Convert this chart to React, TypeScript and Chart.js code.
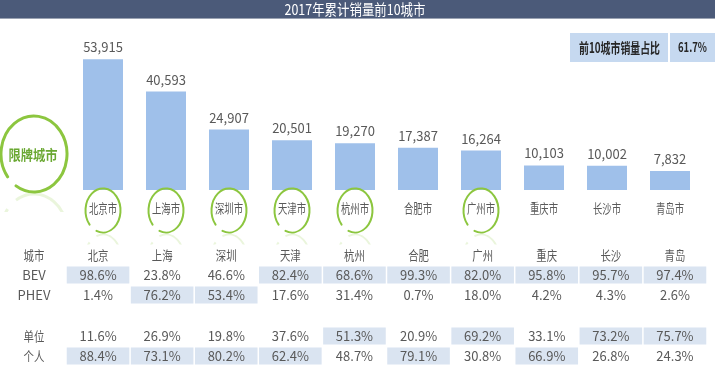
import React, { useEffect, useRef } from "react";
import { Chart, registerables } from "chart.js";

Chart.register(...registerables);

const categories = ["北京市", "上海市", "深圳市", "天津市", "杭州市", "合肥市", "广州市", "重庆市", "长沙市", "青岛市"];
const cityShort = ["北京", "上海", "深圳", "天津", "杭州", "合肥", "广州", "重庆", "长沙", "青岛"];
const sales = [53915, 40593, 24907, 20501, 19270, 17387, 16264, 10103, 10002, 7832];
const restricted = [true, true, true, true, true, false, true, false, false, false];
const bev = [98.6, 23.8, 46.6, 82.4, 68.6, 99.3, 82.0, 95.8, 95.7, 97.4];
const phev = [1.4, 76.2, 53.4, 17.6, 31.4, 0.7, 18.0, 4.2, 4.3, 2.6];
const unitShare = [11.6, 26.9, 19.8, 37.6, 51.3, 20.9, 69.2, 33.1, 73.2, 75.7];
const personalShare = [88.4, 73.1, 80.2, 62.4, 48.7, 79.1, 30.8, 66.9, 26.8, 24.3];
const title = "2017年累计销量前10城市";
const shareLabel = "前10城市销量占比";
const shareValue = "61.7%";
const restrictLabel = "限牌城市";
const rowLabels = ["城市", "BEV", "PHEV", "单位", "个人"];

const FONT = "'Liberation Sans Narrow','Noto Sans CJK SC','DejaVu Sans Condensed',sans-serif";
const GREY = "#595959";
const GREEN = "#8cc63f";

function txt(ctx: CanvasRenderingContext2D, s: string, x: number, y: number, size: number, color: string, sx = 1, bold = false, fitW = 0) {
  ctx.save();
  ctx.font = `${bold ? "bold " : ""}${size}px ${FONT}`;
  let k = sx;
  if (fitW > 0) k = fitW / ctx.measureText(s).width;
  ctx.translate(x, y);
  ctx.scale(k, 1);
  ctx.fillStyle = color;
  ctx.textAlign = "center";
  ctx.textBaseline = "middle";
  ctx.fillText(s, 0, 0);
  ctx.restore();
}

function ring(ctx: CanvasRenderingContext2D, cx: number, cy: number, rx: number, ry: number, lw: number, gapFrom: number, gapTo: number) {
  const a0 = (gapTo * Math.PI) / 180;
  const a1 = ((gapFrom + 360) * Math.PI) / 180;
  ctx.save();
  ctx.strokeStyle = GREEN;
  ctx.lineWidth = lw;
  ctx.lineCap = "round";
  ctx.beginPath();
  ctx.ellipse(cx, cy, rx, ry, 0, a0, a1);
  ctx.stroke();
  ctx.restore();
  // faint reflection
  ctx.save();
  const by = cy + ry;
  ctx.beginPath();
  ctx.rect(cx - rx - 5, by + 1, rx * 2 + 10, ry * 0.5);
  ctx.clip();
  ctx.globalAlpha = 0.18;
  ctx.translate(0, 2 * by + 2);
  ctx.scale(1, -1);
  ctx.strokeStyle = GREEN;
  ctx.lineWidth = lw;
  ctx.beginPath();
  ctx.ellipse(cx, cy, rx, ry, 0, a0, a1);
  ctx.stroke();
  ctx.restore();
}

const extras = {
  id: "extras",
  afterDraw(chart: any) {
    const ctx: CanvasRenderingContext2D = chart.ctx;
    const xs = chart.scales.x;
    const meta = chart.getDatasetMeta(0);

    // title bar
    ctx.fillStyle = "#4b5a79";
    ctx.fillRect(0, 0, 715, 18);
    ctx.fillStyle = "#9aa2b2";
    ctx.fillRect(0, 18, 715, 1);
    txt(ctx, title, 355, 9.5, 15, "#ffffff", 1, false, 141);

    // share box
    ctx.fillStyle = "#c6d9f0";
    ctx.fillRect(570, 33, 98, 29);
    ctx.fillRect(670, 33, 45, 29);
    txt(ctx, shareLabel, 619.5, 47.5, 14, "#262626", 1, true, 81);
    txt(ctx, shareValue, 692.5, 47.5, 13, "#262626", 1, true, 29);

    // big ring
    ring(ctx, 34, 154, 33, 38, 3, 123, 143);
    txt(ctx, restrictLabel, 33, 155, 14, "#6aa832", 1, true, 49);

    // bar labels and categories
    meta.data.forEach((bar: any, i: number) => {
      const x = bar.x;
      txt(ctx, sales[i].toLocaleString("en-US"), x, bar.y - 12, 13, GREY, 1);
      txt(ctx, categories[i], x, 208, 13, GREY, 0.72);
      if (restricted[i]) ring(ctx, x, 210.5, 17.5, 22, 2, 112, 140);
    });

    // table
    const mid = (xs.left + xs.right) / 2;
    const stretch = 1.0175;
    const tx = (i: number) => mid + (xs.getPixelForValue(i) - mid) * stretch;
    const cw = (xs.getPixelForValue(1) - xs.getPixelForValue(0)) * stretch - 1.5;
    const rowsY = [255, 275, 295, 336, 356];
    const pairs = [[bev, phev], [unitShare, personalShare]];
    ctx.fillStyle = "#dae4f1";
    for (let i = 0; i < categories.length; i++) {
      pairs.forEach((pair, p) => {
        const hi = pair[0][i] >= pair[1][i] ? 0 : 1;
        const y = rowsY[1 + p * 2 + hi];
        ctx.fillRect(tx(i) - cw / 2, y - 8.5, cw, 17);
      });
    }
    rowLabels.forEach((l, r) => {
      txt(ctx, l, 34, rowsY[r], 13, GREY, /[A-Z]/.test(l) ? 1 : 0.8);
    });
    for (let i = 0; i < categories.length; i++) {
      const x = tx(i);
      txt(ctx, cityShort[i], x, rowsY[0], 13, GREY, 0.8);
      txt(ctx, bev[i].toFixed(1) + "%", x, rowsY[1], 13, GREY, 1);
      txt(ctx, phev[i].toFixed(1) + "%", x, rowsY[2], 13, GREY, 1);
      txt(ctx, unitShare[i].toFixed(1) + "%", x, rowsY[3], 13, GREY, 1);
      txt(ctx, personalShare[i].toFixed(1) + "%", x, rowsY[4], 13, GREY, 1);
    }
  },
};

export default function App() {
  const ref = useRef<HTMLCanvasElement>(null);
  useEffect(() => {
    if (!ref.current) return;
    const chart = new Chart(ref.current, {
      type: "bar",
      data: {
        labels: categories,
        datasets: [
          {
            data: sales,
            backgroundColor: "#9fc0ea",
            barPercentage: 0.635,
            categoryPercentage: 1,
          },
        ],
      },
      options: {
        responsive: false,
        animation: false,
        devicePixelRatio: 1,
        layout: { padding: { left: 71.5, right: 13.5, top: 30, bottom: 180 } },
        scales: {
          x: { display: false },
          y: { display: false, min: 0, max: 66000 },
        },
        plugins: { legend: { display: false }, tooltip: { enabled: false } },
      },
      plugins: [extras],
    } as any);
    return () => chart.destroy();
  }, []);
  return (
    <div style={{ position: "absolute", left: 0, top: 0, width: 715, height: 370, background: "#ffffff" }}>
      <canvas ref={ref} width={715} height={370} style={{ display: "block" }} />
    </div>
  );
}
